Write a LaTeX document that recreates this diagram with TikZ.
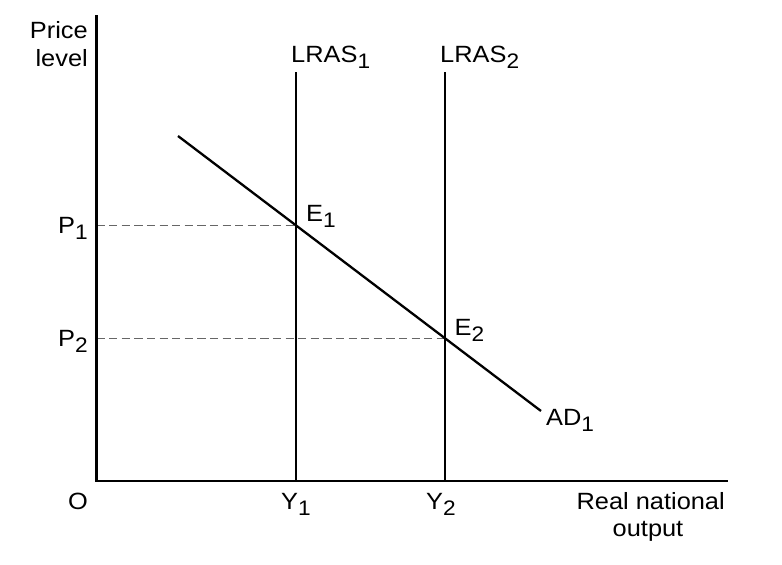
\documentclass[tikz,border=0pt]{standalone}
\usepackage{fontspec}
\setmainfont{Liberation Sans}[FakeStretch=1.08]
\newcommand{\lbsub}[1]{\raisebox{-6pt}{\fontsize{21}{21}\selectfont #1}}
\begin{document}
\begin{tikzpicture}[x=1pt,y=-1pt,
  axis/.style={line width=2.8pt},
  curve/.style={line width=2.3pt},
  guide/.style={line width=1.5pt,draw=black!60,dash pattern=on 8.3pt off 4.3pt},
  lbl/.style={inner sep=0pt,font=\fontsize{23.5}{28}\selectfont}]
\useasboundingbox (0,0) rectangle (782,565);
% key points
\coordinate (O) at (96.5,481);
\coordinate (ytop) at (96.5,15);
\coordinate (xend) at (728,481);
\coordinate (L1top) at (296,72);
\coordinate (L1bot) at (296,481);
\coordinate (L2top) at (445,72);
\coordinate (L2bot) at (445,481);
\coordinate (ADs) at (178,136);
\coordinate (ADe) at (541,411);
\coordinate (E1) at (296,225.4);
\coordinate (E2) at (445,338.3);
\coordinate (P1a) at (96.5,225.4);
\coordinate (P2a) at (96.5,338.3);
% guides
\draw[guide] (P1a) -- (E1);
\draw[guide] (P2a) -- (E2);
% curves
\draw[curve] (L1top) -- (L1bot);
\draw[curve] (L2top) -- (L2bot);
\draw[curve] (ADs) -- (ADe);
% axes
\draw[axis,line join=miter] (ytop) -- (O) -- (xend);
% labels
\node[lbl,anchor=base east] (price) at (88,38.3) {Price};
\node[lbl,anchor=base east] (level) at (88,66.7) {level};
\node[lbl,anchor=base west] (lras1) at (291,62.3) {LRAS\lbsub{1}};
\node[lbl,anchor=base west] (lras2) at (440,62.3) {LRAS\lbsub{2}};
\node[lbl,anchor=base west] (e1) at (306,221.7) {E\lbsub{1}};
\node[lbl,anchor=base west] (e2) at (454.5,335) {E\lbsub{2}};
\node[lbl,anchor=base west] (p1) at (58,233) {P\lbsub{1}};
\node[lbl,anchor=base west] (p2) at (58,346) {P\lbsub{2}};
\node[lbl,anchor=base west] (ad1) at (546,425.7) {AD\lbsub{1}};
\node[lbl,anchor=base] (o) at (78,509) {O};
\node[lbl,anchor=base west] (y1) at (281,509) {Y\lbsub{1}};
\node[lbl,anchor=base west] (y2) at (426,509) {Y\lbsub{2}};
\node[lbl,anchor=base east] (real) at (725,509) {Real national};
\node[lbl,anchor=base] (output) at (648,536.7) {output};
\end{tikzpicture}
\end{document}
